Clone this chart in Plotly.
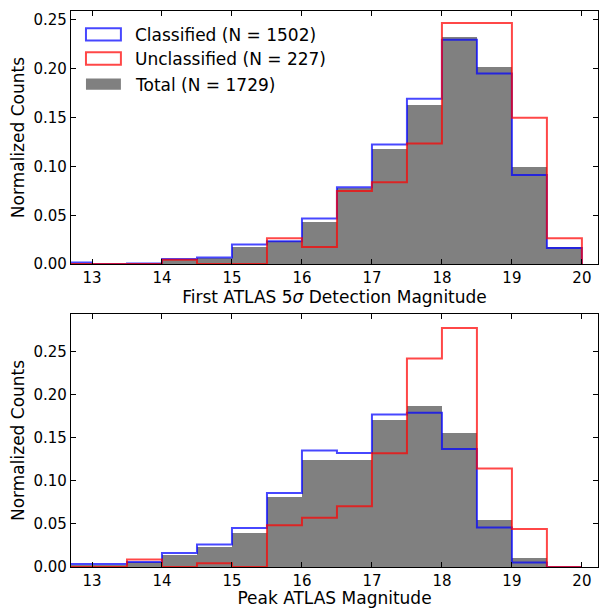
import plotly.graph_objects as go
from plotly.subplots import make_subplots

# ---- data ----
bin_edges = [12.5, 13.0, 13.5, 14.0, 14.5, 15.0, 15.5, 16.0, 16.5, 17.0, 17.5, 18.0, 18.5, 19.0, 19.5, 20.0]

# Panel 1: First ATLAS 5-sigma detection magnitude
first_classified = [0.0017, 0.0, 0.0007, 0.0053, 0.0067, 0.0200, 0.0233, 0.0466, 0.0786, 0.1225, 0.1691, 0.2297, 0.1951, 0.0912, 0.0166]
first_unclassified = [0.0, 0.0, 0.0, 0.0044, 0.0, 0.0, 0.0264, 0.0176, 0.0749, 0.0837, 0.1233, 0.2467, 0.2467, 0.1498, 0.0264]
first_total = [0.0015, 0.0, 0.0006, 0.0052, 0.0058, 0.0174, 0.0237, 0.0428, 0.0781, 0.1174, 0.1631, 0.2319, 0.2018, 0.0989, 0.0179]

# Panel 2: Peak ATLAS magnitude
peak_classified = [0.0035, 0.0035, 0.0058, 0.0163, 0.0260, 0.0453, 0.0860, 0.1352, 0.1325, 0.1771, 0.1791, 0.1372, 0.0459, 0.0053, 0.0]
peak_unclassified = [0.0, 0.0, 0.0088, 0.0, 0.0044, 0.0, 0.0485, 0.0573, 0.0705, 0.1322, 0.2423, 0.2775, 0.1145, 0.0441, 0.0]
peak_total = [0.0030, 0.0030, 0.0062, 0.0142, 0.0232, 0.0393, 0.0810, 0.1249, 0.1244, 0.1712, 0.1874, 0.1557, 0.0549, 0.0104, 0.0]

legend_labels = ["Classified (N = 1502)", "Unclassified (N = 227)", "Total (N = 1729)"]
x_titles = ["First ATLAS 5<i>σ</i> Detection Magnitude", "Peak ATLAS Magnitude"]
y_title = "Normalized Counts"
x_ticks = [13, 14, 15, 16, 17, 18, 19, 20]

# ---- styles ----
BLUE = "rgba(0,0,255,0.72)"
RED = "rgba(255,0,0,0.72)"
GRAY = "rgb(128,128,128)"
FONT = "DejaVu Sans"
TICK_SIZE = 15
TITLE_SIZE = 17
LEGEND_SIZE = 17

W, H = 602, 608
ML, MR, MT, MB = 71, 3, 11, 39
PW, PH = W - ML - MR, H - MT - MB


def px(x):
    return (x - ML) / PW


def py(y):
    return (H - MB - y) / PH


fig = make_subplots(rows=2, cols=1, vertical_spacing=0.0895)

centers = [(bin_edges[i] + bin_edges[i + 1]) / 2 for i in range(len(bin_edges) - 1)]
widths = [bin_edges[i + 1] - bin_edges[i] for i in range(len(bin_edges) - 1)]


def step_xy(vals):
    xs = [bin_edges[0]] + bin_edges[:-1] + [bin_edges[-1], bin_edges[-1]]
    ys = [0] + list(vals) + [vals[-1], 0]
    return xs, ys


panels = [
    (first_classified, first_unclassified, first_total),
    (peak_classified, peak_unclassified, peak_total),
]
for r, (cl, un, tot) in enumerate(panels, start=1):
    fig.add_trace(go.Bar(x=centers, y=tot, width=widths, marker=dict(color=GRAY, line=dict(width=0)),
                         showlegend=False, name=legend_labels[2]), row=r, col=1)
    xs, ys = step_xy(cl)
    fig.add_trace(go.Scatter(x=xs, y=ys, mode="lines", line=dict(color=BLUE, width=2, shape="hv"),
                             showlegend=False, name=legend_labels[0]), row=r, col=1)
    xs, ys = step_xy(un)
    fig.add_trace(go.Scatter(x=xs, y=ys, mode="lines", line=dict(color=RED, width=2, shape="hv"),
                             showlegend=False, name=legend_labels[1]), row=r, col=1)

axis_common = dict(showline=True, linecolor="black", linewidth=1.3, mirror="ticks",
                   ticks="inside", ticklen=5, tickwidth=1.1, tickcolor="black",
                   showgrid=False, zeroline=False,
                   tickfont=dict(family=FONT, size=TICK_SIZE, color="black"))

for r in (1, 2):
    fig.update_xaxes(range=[12.70, 20.23], tickvals=x_ticks, row=r, col=1,
                     title=dict(text=x_titles[r - 1], font=dict(family=FONT, size=TITLE_SIZE, color="black"), standoff=3),
                     **axis_common)
fig.update_yaxes(range=[0, 0.259], dtick=0.05, tickformat=".2f", row=1, col=1,
                 title=dict(text=y_title, font=dict(family=FONT, size=TITLE_SIZE, color="black"), standoff=4),
                 **axis_common)
fig.update_yaxes(range=[0, 0.294], dtick=0.05, tickformat=".2f", row=2, col=1,
                 title=dict(text=y_title, font=dict(family=FONT, size=TITLE_SIZE, color="black"), standoff=4),
                 **axis_common)

# custom legend (matplotlib style) in top panel
leg_rows = [(28.3, 40.7, BLUE, "white", 2), (52.3, 65.0, RED, "white", 2), (78.7, 90.0, GRAY, GRAY, 0)]
for (y0, y1, lc, fc, lw), label in zip(leg_rows, legend_labels):
    fig.add_shape(type="rect", xref="paper", yref="paper", x0=px(86), x1=px(121), y0=py(y1), y1=py(y0),
                  line=dict(color=lc, width=lw), fillcolor=fc)
    fig.add_annotation(xref="paper", yref="paper", x=px(133), y=py((y0 + y1) / 2 + 0.5), text=label,
                       showarrow=False, xanchor="left", yanchor="middle",
                       font=dict(family=FONT, size=LEGEND_SIZE, color="black"))

fig.update_layout(width=W, height=H, margin=dict(l=ML, r=MR, t=MT, b=MB),
                  paper_bgcolor="white", plot_bgcolor="white", bargap=0, barmode="overlay",
                  font=dict(family=FONT, size=15, color="black"))

fig.write_html("out.html")
